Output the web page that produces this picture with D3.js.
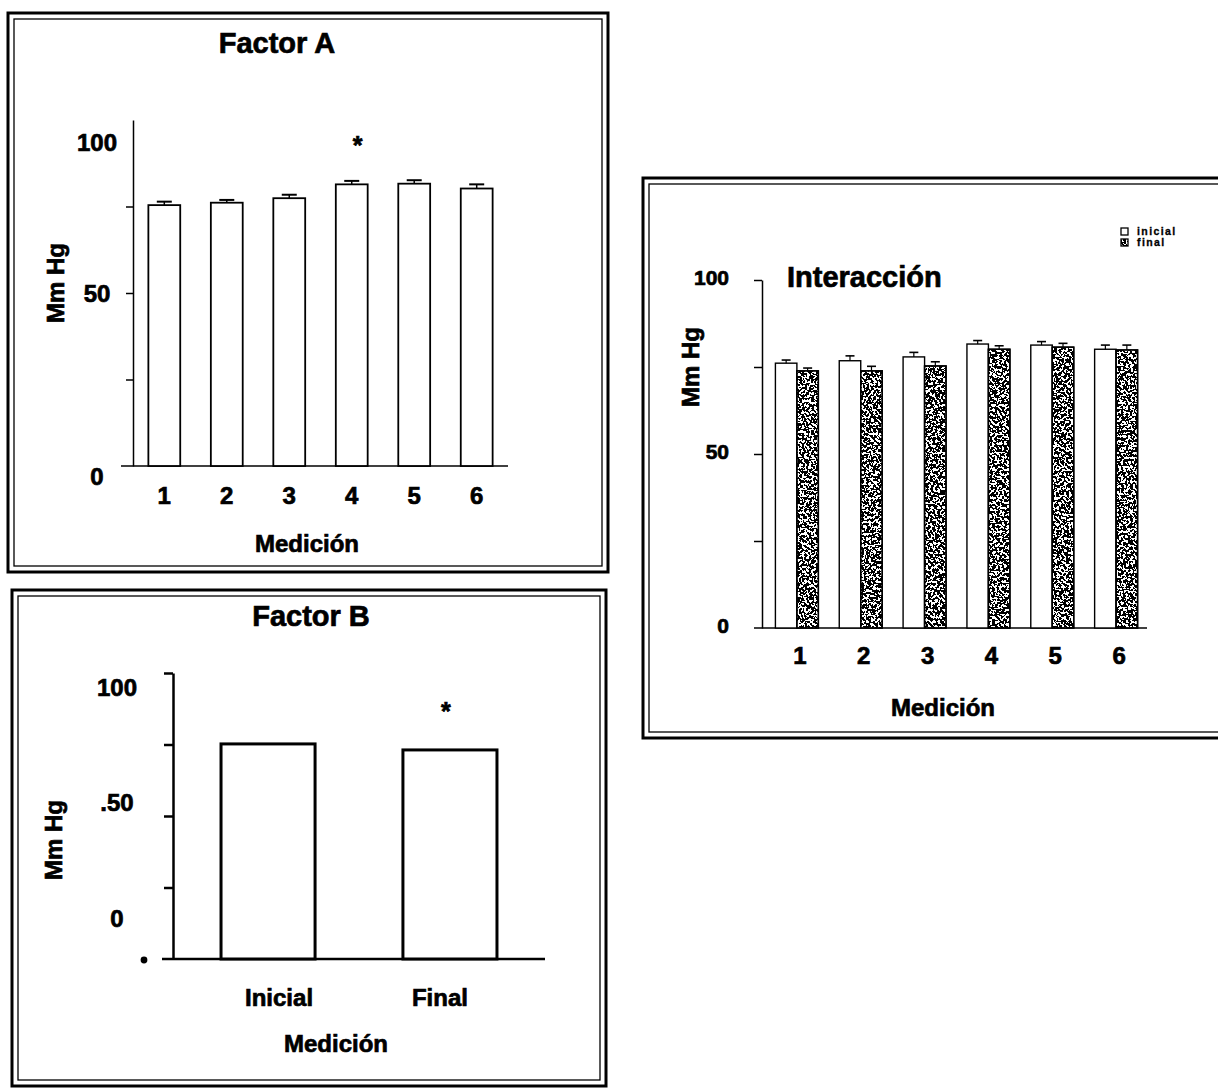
<!DOCTYPE html>
<html><head><meta charset="utf-8">
<script src="https://cdn.jsdelivr.net/npm/d3@7"></script>
<style>
body{margin:0;background:#fff}
svg{display:block}
text{font-family:"Liberation Sans",Arial,sans-serif;font-weight:bold;fill:#000;stroke:#000;stroke-width:0.7px}
</style></head><body><svg id="c" width="1218" height="1088"></svg>
<script>
// ---------- data ----------
const mediciones=["1","2","3","4","5","6"];
const factorA=[75.4,76.1,77.4,81.4,81.6,80.2];
const factorAErr=[1.0,0.8,1.0,1.0,1.0,1.2];
const factorASig=["4"];
const factorBCats=["Inicial","Final"];
const factorB=[75.2,73.1];
const factorBSig=["Final"];
const series=["inicial","final"];
const interInicial=[76.1,76.8,77.9,81.6,81.3,80.1];
const interInicialErr=[0.9,1.4,1.3,1.0,1.0,1.2];
const interFinal=[73.9,73.9,75.3,80.1,80.7,79.9];
const interFinalErr=[0.8,1.3,1.2,1.0,1.1,1.4];
const yTicks=[0,25,50,75,100];
const yLabels=[0,50,100];
const yTitle="Mm Hg", xTitle="Medición";
const titles=["Factor A","Factor B","Interacción"];

// ---------- setup ----------
const svg=d3.select("#c");
const defs=svg.append("defs");
const f=defs.append("filter").attr("id","grain").attr("x",0).attr("y",0).attr("width",1).attr("height",1);
f.append("feTurbulence").attr("type","fractalNoise").attr("baseFrequency",0.42).attr("numOctaves",2).attr("seed",7).attr("result","t");
f.append("feColorMatrix").attr("in","t").attr("type","matrix")
 .attr("values","0 0 0 0 0  0 0 0 0 0  0 0 0 0 0  1 0 0 0 0.02").attr("result","a");
const ct=f.append("feComponentTransfer").attr("in","a").attr("result","b");
ct.append("feFuncA").attr("type","discrete").attr("tableValues","0 1");
f.append("feComposite").attr("in","b").attr("in2","SourceGraphic").attr("operator","in");

function frame(x0,y0,x1,y1){
  svg.append("rect").attr("x",x0).attr("y",y0).attr("width",x1-x0).attr("height",y1-y0)
    .attr("fill","none").attr("stroke","#000").attr("stroke-width",3);
  svg.append("rect").attr("x",x0+6).attr("y",y0+6).attr("width",x1-x0-12).attr("height",y1-y0-12)
    .attr("fill","none").attr("stroke","#000").attr("stroke-width",1.3);
}
function txt(g,x,y,s,size,anchor){
  return g.append("text").attr("x",x).attr("y",y).attr("dy","0.36em")
    .attr("text-anchor",anchor||"middle").attr("font-size",size).text(s);
}
function vtxt(g,x,y,s,size){
  return g.append("text").attr("transform",`translate(${x},${y}) rotate(-90)`).attr("dy","0.36em")
    .attr("text-anchor","middle").attr("font-size",size).text(s);
}
function star(g,x,y){
  return g.append("text").attr("x",x).attr("y",y).attr("text-anchor","middle").attr("font-size",25).text("*");
}
function styleAxis(g,w){g.selectAll("path,line").attr("stroke","#000").attr("stroke-width",w);}

// ================= Panel A =================
frame(8,13,608,572);
const gA=svg.append("g");
const yA=d3.scaleLinear().domain([0,100]).range([466,120]);
const xA=d3.scaleBand().domain(mediciones).range([133,508]).paddingInner(0.49).paddingOuter(0.246);
gA.append("g").attr("transform","translate(133,0)")
  .call(d3.axisLeft(yA).tickValues(yTicks.filter(v=>v>0&&v<100)).tickSize(7).tickSizeOuter(0).tickFormat(""))
  .call(g=>styleAxis(g,1.5));
gA.append("line").attr("x1",121).attr("x2",xA.range()[1]).attr("y1",yA(0)).attr("y2",yA(0))
  .attr("stroke","#000").attr("stroke-width",1.5);
const offA={0:10,50:0,100:22};
yLabels.forEach(v=>txt(gA,97,yA(v)+offA[v],String(v),24));
mediciones.forEach((d,i)=>{
  const x=xA(d),w=xA.bandwidth(),cx=x+w/2;
  gA.append("rect").attr("x",x).attr("y",yA(factorA[i])).attr("width",w).attr("height",yA(0)-yA(factorA[i]))
    .attr("fill","#fff").attr("stroke","#000").attr("stroke-width",1.8);
  const ye=yA(factorA[i]+factorAErr[i]);
  gA.append("line").attr("x1",cx).attr("x2",cx).attr("y1",yA(factorA[i])).attr("y2",ye).attr("stroke","#000").attr("stroke-width",1.5);
  gA.append("line").attr("x1",cx-7.5).attr("x2",cx+7.5).attr("y1",ye).attr("y2",ye).attr("stroke","#000").attr("stroke-width",2);
  txt(gA,cx,495,d,24);
  if(factorASig.includes(d)) star(gA,cx+6,ye-27);
});
txt(gA,277,43,titles[0],29);
vtxt(gA,55,283,yTitle,24);
txt(gA,307,543,xTitle,24);

// ================= Panel B =================
frame(12,590,606,1086);
const gB=svg.append("g");
const yB=d3.scaleLinear().domain([0,100]).range([959,673]);
const xB=d3.scaleBand().domain(factorBCats).range([173,545]).paddingInner(0.483).paddingOuter(0.264);
gB.append("g").attr("transform","translate(173,0)")
  .call(d3.axisLeft(yB).tickValues(yTicks.filter(v=>v>0)).tickSize(9).tickSizeOuter(0).tickFormat(""))
  .call(g=>styleAxis(g,2.5));
gB.append("line").attr("x1",162).attr("x2",xB.range()[1]).attr("y1",yB(0)).attr("y2",yB(0))
  .attr("stroke","#000").attr("stroke-width",2.5);
const offB={0:-41,50:-14,100:14};
yLabels.forEach(v=>txt(gB,117,yB(v)+offB[v],v===50?".50":String(v),24));
gB.append("circle").attr("cx",144).attr("cy",yB(0)+1).attr("r",3.4).attr("fill","#000");
factorBCats.forEach((d,i)=>{
  const x=xB(d),w=xB.bandwidth(),cx=x+w/2;
  gB.append("rect").attr("x",x).attr("y",yB(factorB[i])).attr("width",w).attr("height",yB(0)-yB(factorB[i]))
    .attr("fill","#fff").attr("stroke","#000").attr("stroke-width",3);
  txt(gB,cx+(i===0?11:-10),997,d,24);
  if(factorBSig.includes(d)) star(gB,cx-4,yB(factorB[i])-30);
});
txt(gB,311,616,titles[1],29);
vtxt(gB,53,840,yTitle,24);
txt(gB,336,1043,xTitle,24);

// ================= Panel Interacción =================
frame(643,178,1240,738);
const gI=svg.append("g");
const yI=d3.scaleLinear().domain([0,100]).range([628,280]);
const xI=d3.scaleBand().domain(mediciones).range([762,1151]).paddingInner(0.327).paddingOuter(0.21);
const xI1=d3.scaleBand().domain(series).range([0,xI.bandwidth()]);
gI.append("g").attr("transform","translate(762,0)")
  .call(d3.axisLeft(yI).tickValues(yTicks.filter(v=>v>0)).tickSize(8).tickSizeOuter(0).tickFormat(""))
  .call(g=>styleAxis(g,1.5));
gI.append("line").attr("x1",754).attr("x2",1147).attr("y1",yI(0)).attr("y2",yI(0))
  .attr("stroke","#000").attr("stroke-width",1.5);
yLabels.forEach(v=>txt(gI,729,yI(v)-3,String(v),21,"end"));
const interVals={inicial:[interInicial,interInicialErr],final:[interFinal,interFinalErr]};
mediciones.forEach((d,i)=>{
  series.forEach(s=>{
    const v=interVals[s][0][i],e=interVals[s][1][i];
    const x=xI(d)+xI1(s),w=xI1.bandwidth(),cx=x+w/2;
    gI.append("rect").attr("x",x).attr("y",yI(v)).attr("width",w).attr("height",yI(0)-yI(v))
      .attr("fill","#fff").attr("stroke","#000").attr("stroke-width",1.4);
    if(s==="final"){
      gI.append("rect").attr("x",x).attr("y",yI(v)).attr("width",w).attr("height",yI(0)-yI(v))
        .attr("fill","#000").attr("filter","url(#grain)");
      gI.append("rect").attr("x",x).attr("y",yI(v)).attr("width",w).attr("height",yI(0)-yI(v))
        .attr("fill","none").attr("stroke","#000").attr("stroke-width",1.4);
    }
    const ye=yI(v+e);
    gI.append("line").attr("x1",cx).attr("x2",cx).attr("y1",yI(v)).attr("y2",ye).attr("stroke","#000").attr("stroke-width",1.2);
    gI.append("line").attr("x1",cx-4.5).attr("x2",cx+4.5).attr("y1",ye).attr("y2",ye).attr("stroke","#000").attr("stroke-width",1.6);
  });
  txt(gI,xI(d)+xI.bandwidth()/2+3,655,d,24);
});
txt(gI,787,277,titles[2],29,"start");
vtxt(gI,690,367,yTitle,24);
txt(gI,943,707,xTitle,24);
// legend
series.forEach((s,i)=>{
  const y=228+i*11;
  gI.append("rect").attr("x",1121).attr("y",y).attr("width",7).attr("height",7).attr("fill","#fff").attr("stroke","#000").attr("stroke-width",1.3);
  if(s==="final") gI.append("rect").attr("x",1121).attr("y",y).attr("width",7).attr("height",7).attr("fill","#000").attr("filter","url(#grain)");
  gI.append("text").attr("x",1137).attr("y",y+3.5).attr("dy","0.36em").attr("font-size",10.5)
    .attr("letter-spacing","1.4px").style("stroke-width","0.3px").text(s);
});
</script></body></html>
